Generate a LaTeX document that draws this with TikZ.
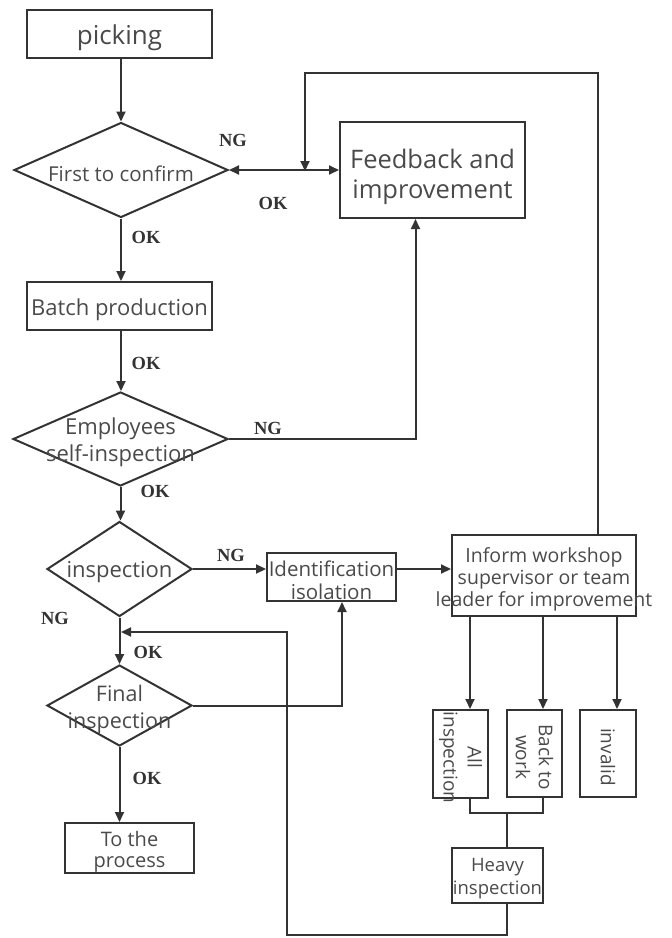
\documentclass[tikz,border=0pt]{standalone}
\usepackage{fontspec}
\setmainfont{Open Sans}
\newfontfamily\lblfont{Liberation Serif}
\usetikzlibrary{shapes.geometric,arrows.meta,calc}
\definecolor{ln}{HTML}{333333}
\definecolor{tx}{HTML}{4A4A4A}
\tikzset{
  box/.style={draw=ln, line width=2pt, inner sep=0pt, text=tx, align=center},
  dia/.style={diamond, draw=ln, line width=2pt, inner sep=0pt},
  dtext/.style={text=tx, align=center, inner sep=0pt, yshift=-3.5pt},
  arr/.style={draw=ln, line width=2pt, -{Triangle[length=10pt,width=9pt]}},
  con/.style={draw=ln, line width=2pt},
  lbl/.style={font=\lblfont\bfseries\fontsize{18.5}{18.5}\selectfont, text=ln, inner sep=0pt}
}
\begin{document}
\begin{tikzpicture}[x=1pt,y=-1pt]
\useasboundingbox (0,0) rectangle (672,938);
% nodes
\node[box, minimum width=185, minimum height=48,
  label={[dtext, font=\fontsize{26}{30}\selectfont]center:picking}] (pick) at (119.5,34) {};
\node[dia, minimum width=214, minimum height=95,
  label={[dtext, font=\fontsize{20.5}{24}\selectfont]center:First to confirm}] (d1) at (121,170) {};
\node[box, minimum width=185, minimum height=96,
  label={[dtext, yshift=-3pt, font=\fontsize{25.5}{30}\selectfont]center:Feedback and\\improvement}] (fb) at (432.5,170) {};
\node[box, minimum width=185, minimum height=48,
  label={[dtext, font=\fontsize{22}{26}\selectfont]center:Batch production}] (batch) at (119.5,306) {};
\node[dia, minimum width=215, minimum height=94,
  label={[dtext, font=\fontsize{22}{27}\selectfont]center:Employees\\self-inspection}] (d2) at (120.5,439) {};
\node[dia, minimum width=145, minimum height=95,
  label={[dtext, font=\fontsize{22}{26}\selectfont]center:inspection}] (d3) at (119.5,569) {};
\node[box, minimum width=129, minimum height=48,
  label={[dtext, font=\fontsize{20.5}{23}\selectfont]center:Identification\\isolation}] (ident) at (331.5,577) {};
\node[box, minimum width=184, minimum height=81,
  label={[dtext, font=\fontsize{19.5}{22}\selectfont]center:Inform workshop\\supervisor or team\\leader for improvement}] (inform) at (544,575.5) {};
\node[dia, minimum width=145, minimum height=81,
  label={[dtext, font=\fontsize{21.5}{27}\selectfont]center:Final\\inspection}] (d4) at (119.5,705.5) {};
\node[box, minimum width=129, minimum height=50,
  label={[dtext, font=\fontsize{20}{21}\selectfont]center:To the\\process}] (proc) at (129.5,848) {};
\node[box, minimum width=55, minimum height=88,
  label={[dtext, rotate=-90, font=\fontsize{19}{24}\selectfont]center:All\\inspection}] (allb) at (460.5,754) {};
\node[box, minimum width=55, minimum height=87,
  label={[dtext, rotate=-90, font=\fontsize{19}{23}\selectfont]center:Back to\\work}] (back) at (534.5,753.5) {};
\node[box, minimum width=56, minimum height=87,
  label={[dtext, rotate=-90, font=\fontsize{19}{23}\selectfont]center:invalid}] (inv) at (608,753.5) {};
\node[box, minimum width=91, minimum height=55,
  label={[dtext, font=\fontsize{18.5}{23}\selectfont]center:Heavy\\inspection}] (heavy) at (497.5,875.5) {};
% labels
\node[lbl] (l1) at (233,140) {NG};
\node[lbl] (l2) at (273,203) {OK};
\node[lbl] (l3) at (146,237) {OK};
\node[lbl] (l4) at (146,363) {OK};
\node[lbl] (l5) at (268,428) {NG};
\node[lbl] (l6) at (155,491) {OK};
\node[lbl] (l7) at (231,555) {NG};
\node[lbl] (l8) at (55,618) {NG};
\node[lbl] (l9) at (148,652) {OK};
\node[lbl] (l10) at (147,778) {OK};
% coordinates
\coordinate (j1) at (305,171);
\coordinate (t1) at (305,73);
\coordinate (i1) at ([xshift=54pt]inform.north);
\coordinate (f1) at ([xshift=-17pt]fb.south);
\coordinate (i2) at ([xshift=10.5pt]ident.south);
\coordinate (j2) at (121,632);
\coordinate (b1) at (287,935);
\coordinate (ax) at (470,0);
\coordinate (bx) at (543,0);
\coordinate (cx) at (617,0);
\coordinate (m1) at (507,813);
% connectors
\draw[arr] (pick.south -| d1.north) -- (d1.north);
\draw[arr, {Triangle[length=10pt,width=9pt]}-{Triangle[length=10pt,width=9pt]}] (d1.east) -- (fb.west);
\draw[arr] (i1) |- (t1) -- (j1);
\draw[arr] (d1.south) -- (d1.south |- batch.north);
\draw[arr] (d1.south |- batch.south) -- (d1.south |- d2.north);
\draw[arr] (d2.east) -| (f1);
\draw[arr] (d2.south) -- (d2.south |- d3.north);
\draw[arr] (d3.east) -- (d3.east -| ident.west);
\draw[arr] (d3.east -| ident.east) -- (d3.east -| inform.west);
\draw[arr] (d3.south) -- (d4.north);
\draw[arr] (d4.east) -| (i2);
\draw[arr] (d4.south) -- (d4.south |- proc.north);
\draw[arr] (ax |- inform.south) -- (ax |- allb.north);
\draw[arr] (bx |- inform.south) -- (bx |- back.north);
\draw[arr] (cx |- inform.south) -- (cx |- inv.north);
\draw[con] (ax |- allb.south) |- (m1) -| (bx |- back.south);
\draw[con] (m1) -- (m1 |- heavy.north);
\draw[arr] (m1 |- heavy.south) |- (b1) |- (j2);
\end{tikzpicture}
\end{document}
